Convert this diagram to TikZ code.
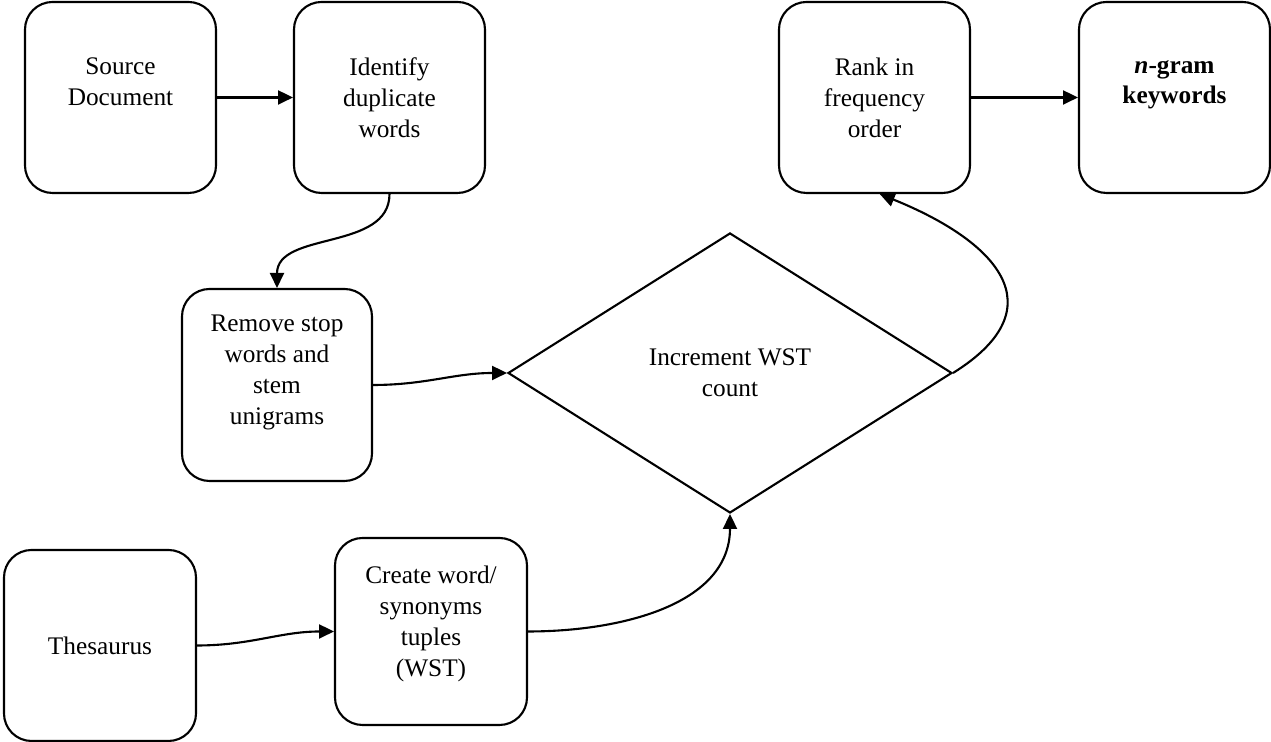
\documentclass[tikz,border=0pt]{standalone}
\usepackage{fontspec}
\setmainfont{Liberation Serif}
\usetikzlibrary{arrows.meta,shapes.geometric}
\tikzset{stage/.style={rectangle,rounded corners=0.55cm,draw=black,line width=1.2pt,minimum width=3.82cm,minimum height=3.82cm,inner sep=0pt,align=center,font=\fontsize{14.4}{17.6}\selectfont}}
\tikzset{flow/.style={-{Triangle[length=8.5pt,width=8pt]},line width=1.2pt}}

\begin{document}
\begin{tikzpicture}[x=0.2mm,y=0.2mm]
\useasboundingbox (0,0) rectangle (1271,742);
% top row
\node (src) [stage] at (120.5,644.5) {Source\\Document\\~};
\node (idf) [stage] at (389.5,644.5) {Identify\\duplicate\\words};
\node (rank) [stage] at (874.5,644.5) {Rank in\\frequency\\order};
\node (ngram) [stage,font=\fontsize{14.4}{17.6}\selectfont\bfseries] at (1174.5,644.5) {\textit{n}-gram\\keywords\\~};
%
\node (rm) [stage,minimum width=3.80cm,minimum height=3.84cm] at (277,357) {Remove stop\\words and\\stem\\unigrams\\~};
\node (dia) [diamond,draw=black,line width=1.2pt,minimum width=8.88cm,minimum height=5.6cm,inner sep=0pt,align=center,font=\fontsize{14.4}{17.6}\selectfont] at (730,369) {Increment WST\\count};
%
\node (thes) [stage,minimum width=3.84cm,minimum height=3.82cm] at (100,96.5) {Thesaurus};
\node (wst) [stage,minimum width=3.84cm,minimum height=3.74cm] at (431,110.5) {Create word/\\synonyms\\tuples\\(WST)\\[-6pt]~};
%
\path[flow] (src) edge (idf);
\path[flow] (rank) edge (ngram);
\path[flow] (idf.south) edge[out=-90,in=90] (rm.north);
\path[flow] (rm.east) edge[out=0,in=180] (dia.west);
\path[flow] (thes.east) edge[out=0,in=180] (wst.west);
\path[flow] (wst.east) edge[out=0,in=-90] (dia.south);
\path[flow] (dia.east) edge[out=32,in=-22,looseness=1.65] ([xshift=3pt]rank.south);
\end{tikzpicture}
\end{document}
